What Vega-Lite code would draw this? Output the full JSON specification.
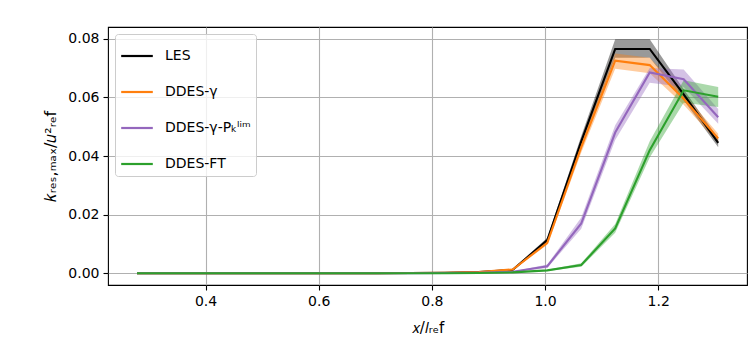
{
  "$schema": "https://vega.github.io/schema/vega-lite/v6.json",
  "width": 639,
  "height": 258,
  "autosize": "none",
  "padding": {"left": 108, "top": 27, "right": 9, "bottom": 70},
  "background": "white",
  "config": {
    "font": "DejaVu Sans",
    "view": {"stroke": "black", "strokeWidth": 1.1},
    "axis": {
      "grid": true,
      "gridColor": "#b0b0b0",
      "gridWidth": 1.1,
      "domain": false,
      "tickColor": "black",
      "tickSize": 5,
      "tickWidth": 1.1,
      "labelFontSize": 14,
      "labelColor": "black",
      "labelPadding": 4,
      "titleFontSize": 15,
      "titleColor": "black",
      "titleFontWeight": "normal"
    },
    "legend": {
      "orient": "top-left",
      "offset": 7,
      "padding": 5,
      "strokeColor": "#cccccc",
      "fillColor": "rgba(255,255,255,0.8)",
      "cornerRadius": 3,
      "symbolType": "stroke",
      "symbolSize": 1000,
      "symbolStrokeWidth": 2.2,
      "symbolOpacity": 1,
      "labelFontSize": 14,
      "labelColor": "black",
      "labelOffset": 11,
      "labelLimit": 300,
      "rowPadding": 12,
      "title": null
    }
  },
  "data": {
    "values": [
      {"x": 0.279, "s": "LES", "y": 0, "lo": 0, "hi": 0},
      {"x": 0.339, "s": "LES", "y": 0, "lo": 0, "hi": 0},
      {"x": 0.400, "s": "LES", "y": 0, "lo": 0, "hi": 0},
      {"x": 0.460, "s": "LES", "y": 0, "lo": 0, "hi": 0},
      {"x": 0.521, "s": "LES", "y": 0, "lo": 0, "hi": 0},
      {"x": 0.581, "s": "LES", "y": 0, "lo": 0, "hi": 0},
      {"x": 0.641, "s": "LES", "y": 0, "lo": 0, "hi": 0},
      {"x": 0.702, "s": "LES", "y": 0, "lo": 0, "hi": 0},
      {"x": 0.762, "s": "LES", "y": 0.0001, "lo": 0.0001, "hi": 0.0001},
      {"x": 0.823, "s": "LES", "y": 0.0002, "lo": 0.0001, "hi": 0.0003},
      {"x": 0.883, "s": "LES", "y": 0.0004, "lo": 0.0003, "hi": 0.0005},
      {"x": 0.943, "s": "LES", "y": 0.0012, "lo": 0.0009, "hi": 0.0015},
      {"x": 1.004, "s": "LES", "y": 0.0113, "lo": 0.0105, "hi": 0.0121},
      {"x": 1.064, "s": "LES", "y": 0.0450, "lo": 0.0432, "hi": 0.0468},
      {"x": 1.124, "s": "LES", "y": 0.0765, "lo": 0.0735, "hi": 0.0798},
      {"x": 1.185, "s": "LES", "y": 0.0765, "lo": 0.0735, "hi": 0.0798},
      {"x": 1.245, "s": "LES", "y": 0.0610, "lo": 0.0590, "hi": 0.0628},
      {"x": 1.306, "s": "LES", "y": 0.0445, "lo": 0.0430, "hi": 0.0460},

      {"x": 0.279, "s": "DDES-γ", "y": 0, "lo": 0, "hi": 0},
      {"x": 0.339, "s": "DDES-γ", "y": 0, "lo": 0, "hi": 0},
      {"x": 0.400, "s": "DDES-γ", "y": 0, "lo": 0, "hi": 0},
      {"x": 0.460, "s": "DDES-γ", "y": 0, "lo": 0, "hi": 0},
      {"x": 0.521, "s": "DDES-γ", "y": 0, "lo": 0, "hi": 0},
      {"x": 0.581, "s": "DDES-γ", "y": 0, "lo": 0, "hi": 0},
      {"x": 0.641, "s": "DDES-γ", "y": 0, "lo": 0, "hi": 0},
      {"x": 0.702, "s": "DDES-γ", "y": 0, "lo": 0, "hi": 0},
      {"x": 0.762, "s": "DDES-γ", "y": 0.0001, "lo": 0.0001, "hi": 0.0001},
      {"x": 0.823, "s": "DDES-γ", "y": 0.0002, "lo": 0.0001, "hi": 0.0003},
      {"x": 0.883, "s": "DDES-γ", "y": 0.0004, "lo": 0.0003, "hi": 0.0005},
      {"x": 0.943, "s": "DDES-γ", "y": 0.0013, "lo": 0.0010, "hi": 0.0016},
      {"x": 1.004, "s": "DDES-γ", "y": 0.0104, "lo": 0.0097, "hi": 0.0111},
      {"x": 1.064, "s": "DDES-γ", "y": 0.0430, "lo": 0.0412, "hi": 0.0448},
      {"x": 1.124, "s": "DDES-γ", "y": 0.0725, "lo": 0.0698, "hi": 0.0750},
      {"x": 1.185, "s": "DDES-γ", "y": 0.0710, "lo": 0.0682, "hi": 0.0735},
      {"x": 1.245, "s": "DDES-γ", "y": 0.0595, "lo": 0.0575, "hi": 0.0612},
      {"x": 1.306, "s": "DDES-γ", "y": 0.0460, "lo": 0.0445, "hi": 0.0476},

      {"x": 0.279, "s": "DDES-γ-Pₖˡⁱᵐ", "y": 0, "lo": 0, "hi": 0},
      {"x": 0.339, "s": "DDES-γ-Pₖˡⁱᵐ", "y": 0, "lo": 0, "hi": 0},
      {"x": 0.400, "s": "DDES-γ-Pₖˡⁱᵐ", "y": 0, "lo": 0, "hi": 0},
      {"x": 0.460, "s": "DDES-γ-Pₖˡⁱᵐ", "y": 0, "lo": 0, "hi": 0},
      {"x": 0.521, "s": "DDES-γ-Pₖˡⁱᵐ", "y": 0, "lo": 0, "hi": 0},
      {"x": 0.581, "s": "DDES-γ-Pₖˡⁱᵐ", "y": 0, "lo": 0, "hi": 0},
      {"x": 0.641, "s": "DDES-γ-Pₖˡⁱᵐ", "y": 0, "lo": 0, "hi": 0},
      {"x": 0.702, "s": "DDES-γ-Pₖˡⁱᵐ", "y": 0, "lo": 0, "hi": 0},
      {"x": 0.762, "s": "DDES-γ-Pₖˡⁱᵐ", "y": 0, "lo": 0, "hi": 0},
      {"x": 0.823, "s": "DDES-γ-Pₖˡⁱᵐ", "y": 0.0001, "lo": 0.0001, "hi": 0.0001},
      {"x": 0.883, "s": "DDES-γ-Pₖˡⁱᵐ", "y": 0.0002, "lo": 0.0001, "hi": 0.0003},
      {"x": 0.943, "s": "DDES-γ-Pₖˡⁱᵐ", "y": 0.0005, "lo": 0.0004, "hi": 0.0006},
      {"x": 1.004, "s": "DDES-γ-Pₖˡⁱᵐ", "y": 0.0024, "lo": 0.0018, "hi": 0.0030},
      {"x": 1.064, "s": "DDES-γ-Pₖˡⁱᵐ", "y": 0.0170, "lo": 0.0152, "hi": 0.0190},
      {"x": 1.124, "s": "DDES-γ-Pₖˡⁱᵐ", "y": 0.0480, "lo": 0.0455, "hi": 0.0505},
      {"x": 1.185, "s": "DDES-γ-Pₖˡⁱᵐ", "y": 0.0685, "lo": 0.0650, "hi": 0.0700},
      {"x": 1.245, "s": "DDES-γ-Pₖˡⁱᵐ", "y": 0.0662, "lo": 0.0635, "hi": 0.0695},
      {"x": 1.306, "s": "DDES-γ-Pₖˡⁱᵐ", "y": 0.0532, "lo": 0.0510, "hi": 0.0560},

      {"x": 0.279, "s": "DDES-FT", "y": 0, "lo": 0, "hi": 0},
      {"x": 0.339, "s": "DDES-FT", "y": 0, "lo": 0, "hi": 0},
      {"x": 0.400, "s": "DDES-FT", "y": 0, "lo": 0, "hi": 0},
      {"x": 0.460, "s": "DDES-FT", "y": 0, "lo": 0, "hi": 0},
      {"x": 0.521, "s": "DDES-FT", "y": 0, "lo": 0, "hi": 0},
      {"x": 0.581, "s": "DDES-FT", "y": 0, "lo": 0, "hi": 0},
      {"x": 0.641, "s": "DDES-FT", "y": 0, "lo": 0, "hi": 0},
      {"x": 0.702, "s": "DDES-FT", "y": 0, "lo": 0, "hi": 0},
      {"x": 0.762, "s": "DDES-FT", "y": 0, "lo": 0, "hi": 0},
      {"x": 0.823, "s": "DDES-FT", "y": 0, "lo": 0, "hi": 0},
      {"x": 0.883, "s": "DDES-FT", "y": 0.0001, "lo": 0.0001, "hi": 0.0001},
      {"x": 0.943, "s": "DDES-FT", "y": 0.0003, "lo": 0.0002, "hi": 0.0004},
      {"x": 1.004, "s": "DDES-FT", "y": 0.0010, "lo": 0.0008, "hi": 0.0012},
      {"x": 1.064, "s": "DDES-FT", "y": 0.0028, "lo": 0.0022, "hi": 0.0034},
      {"x": 1.124, "s": "DDES-FT", "y": 0.0153, "lo": 0.0138, "hi": 0.0168},
      {"x": 1.185, "s": "DDES-FT", "y": 0.0420, "lo": 0.0395, "hi": 0.0450},
      {"x": 1.245, "s": "DDES-FT", "y": 0.0624, "lo": 0.0582, "hi": 0.0658},
      {"x": 1.306, "s": "DDES-FT", "y": 0.0602, "lo": 0.0567, "hi": 0.0635}
    ]
  },
  "encoding": {
    "x": {
      "field": "x",
      "type": "quantitative",
      "scale": {"domain": [0.2277, 1.3569], "nice": false, "zero": false},
      "axis": {"values": [0.4, 0.6, 0.8, 1.0, 1.2], "format": ".1f", "title": "𝑥/𝑙ᵣₑf", "titlePadding": 12}
    },
    "color": {
      "field": "s",
      "type": "nominal",
      "scale": {
        "domain": ["LES", "DDES-γ", "DDES-γ-Pₖˡⁱᵐ", "DDES-FT"],
        "range": ["#000000", "#ff7f0e", "#9467bd", "#2ca02c"]
      }
    }
  },
  "layer": [
    {
      "mark": {"type": "area", "opacity": 0.4},
      "encoding": {
        "y": {
          "field": "lo",
          "type": "quantitative",
          "scale": {"domain": [-0.004, 0.084], "nice": false, "zero": false},
          "axis": {"values": [0, 0.02, 0.04, 0.06, 0.08], "format": ".2f", "title": "𝑘ᵣₑₛ,ₘₐₓ/𝑢²ᵣₑf", "titlePadding": 9, "titleFontSize": 16}
        },
        "y2": {"field": "hi"}
      }
    },
    {
      "mark": {"type": "line", "strokeWidth": 2.1},
      "encoding": {
        "y": {"field": "y", "type": "quantitative"}
      }
    }
  ]
}
